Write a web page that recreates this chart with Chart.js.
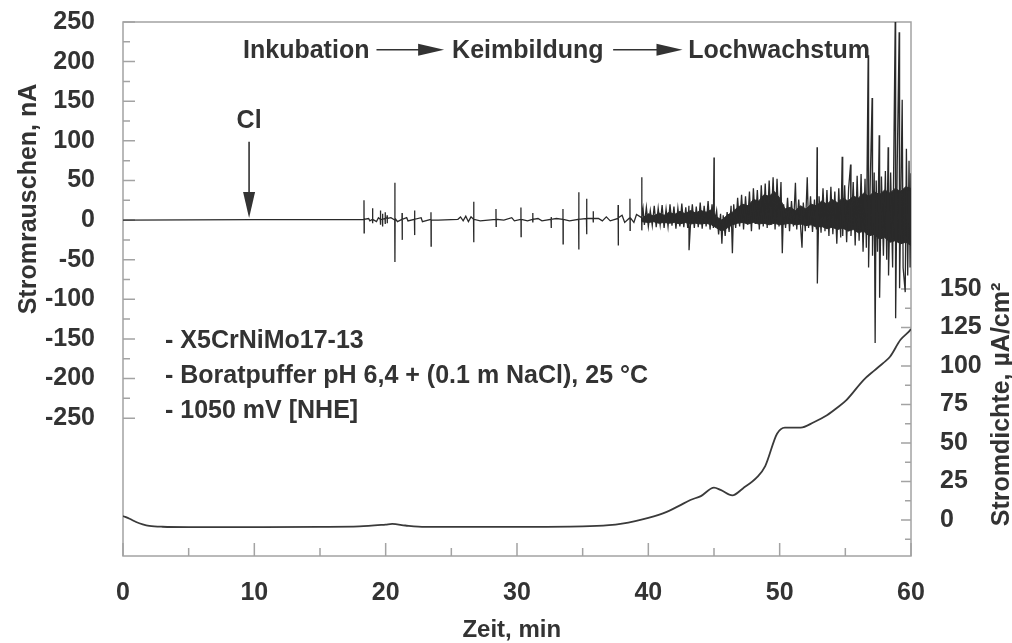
<!DOCTYPE html>
<html>
<head>
<meta charset="utf-8">
<script src="https://cdn.jsdelivr.net/npm/chart.js@4.4.1/dist/chart.umd.min.js"></script>
<style>
  html, body { margin: 0; padding: 0; background: #fff; }
</style>
</head>
<body>
<canvas id="chart" width="1012" height="643"></canvas>
<script>
// axis ticks
const xTicks = [0, 10, 20, 30, 40, 50, 60];
const xMinorTicks = [5, 15, 25, 35, 45, 55];
const noiseTicks = [250, 200, 150, 100, 50, 0, -50, -100, -150, -200, -250];
const noiseMinorTicks = [225, 175, 125, 75, 25, -25, -75, -125, -175, -225];
const densityTicks = [0, 25, 50, 75, 100, 125, 150];
const densityMinorTicks = [-12.5, 12.5, 37.5, 62.5, 87.5, 112.5, 137.5];

// Stromrauschen in nA, [Zeit min, Wert]
const noise = [
  [0, 0], [10, 0.5], [18.2, 0.5],
  [18.34, 1], [18.35, 25], [18.36, -16], [18.37, 1],
  [18.7, 2], [18.8, -1],
  [18.99, 1], [19.0, 15], [19.01, -4], [19.02, 1],
  [19.3, -2], [19.45, 3],
  [19.59, 1], [19.6, 12], [19.61, -6], [19.62, 1],
  [19.75, 1], [19.76, 8], [19.77, -8], [19.78, 1],
  [19.95, 2], [19.96, 10], [19.97, -5], [19.98, 2],
  [20.1, 3], [20.11, 6], [20.12, -4], [20.13, 2], [20.4, 3],
  [20.69, 0], [20.7, 47], [20.71, -53], [20.72, 2], [20.9, -2],
  [21.24, 1], [21.25, 9], [21.26, -25], [21.27, 1], [21.6, 3], [21.7, -1],
  [22.19, 1], [22.2, 12], [22.21, -19], [22.22, 1],
  [22.7, 3], [22.8, -2],
  [23.44, 1], [23.45, 10], [23.46, -33], [23.47, 0],
  [24.0, 0], [25.5, 1], [25.7, 4], [25.9, -1], [26.1, 5], [26.3, -2], [26.5, 4],
  [26.69, 1], [26.7, 23], [26.71, -28], [26.72, 1], [27.2, -1],
  [28.39, 1], [28.4, 14], [28.41, -8], [28.42, 1],
  [29.0, 0], [29.6, 3], [29.8, -1],
  [30.29, 1], [30.3, 16], [30.31, -21], [30.32, 1],
  [30.8, -1],
  [31.19, 1], [31.2, 9], [31.21, -3], [31.22, 1], [31.6, 2], [31.9, -1],
  [32.59, 1], [32.6, 4], [32.61, -10], [32.62, 1],
  [33.0, 2],
  [33.49, 1], [33.5, 14], [33.51, -30], [33.52, 1],
  [34.0, -1],
  [34.69, 1], [34.7, 35], [34.71, -37], [34.72, 1],
  [35.29, 2], [35.3, 27], [35.31, -18], [35.32, 2],
  [35.79, 2], [35.8, 11], [35.81, -3], [35.82, 2], [36.2, 2], [36.5, -1], [36.8, 4], [37.1, -1],
  [37.69, 2], [37.7, 19], [37.71, -32], [37.72, 3], [38.0, 6], [38.2, -3],
  [38.59, 3], [38.6, 27], [38.61, -13], [38.62, 3], [38.9, -3], [39.1, 7],
  [39.49, 3], [39.5, 54], [39.51, -13], [39.52, 3],
  [39.6, 14], [39.7, -6], [39.85, 16], [40.0, -8], [40.15, 12], [40.3, -7], [40.45, 18], [40.6, -9],
  [40.75, 15], [40.9, -6], [41.05, 19], [41.2, -10], [41.35, 14], [41.5, -8], [41.65, 20], [41.8, -7],
  [41.95, 17], [42.1, -11], [42.25, 15], [42.4, -8], [42.55, 21], [42.7, -9], [42.85, 16], [43.0, -10],
  [43.09, 18], [43.1, -38], [43.2, -8], [43.35, 20], [43.5, -10], [43.65, 17], [43.8, -9], [43.95, 22],
  [44.1, -11], [44.25, 18], [44.4, -8], [44.55, 24], [44.7, -12], [44.85, 20], [44.95, -10],
  [45.0, 79], [45.02, -5], [45.2, 12], [45.35, -18], [45.5, 8], [45.6, -30], [45.7, 6], [45.85, -20],
  [46.0, 10], [46.15, -15], [46.3, 18], [46.4, -42], [46.5, 20], [46.65, -10], [46.8, 28], [46.95, -8],
  [47.1, 32], [47.25, -12], [47.4, 30], [47.55, -6], [47.7, 36], [47.85, -14], [48.0, 40], [48.15, -5],
  [48.3, 38], [48.45, -12], [48.6, 44], [48.75, -8], [48.9, 46], [49.05, -10], [49.2, 50], [49.35, -6],
  [49.5, 54], [49.65, -12], [49.8, 52], [49.95, -8], [50.1, 48], [50.2, -42], [50.3, 20], [50.45, -10],
  [50.6, 28], [50.75, -14], [50.9, 24], [51.05, -8], [51.2, 47], [51.3, -12], [51.45, 26], [51.6, -10],
  [51.7, -35], [51.8, 22], [51.95, -14], [52.1, 54], [52.2, -10], [52.35, 30], [52.5, -15], [52.65, 26],
  [52.8, -12], [52.85, 92], [52.87, -80], [53.0, 30], [53.15, -16], [53.3, 40], [53.45, -14], [53.6, 38],
  [53.75, -20], [53.9, 42], [54.05, -18], [54.2, 36], [54.35, -30], [54.5, 40], [54.65, -22], [54.76, 80],
  [54.8, -20], [54.95, 44], [55.1, -28], [55.25, 40], [55.4, 70], [55.43, -20], [55.6, 48], [55.75, -32],
  [55.9, 56], [56.05, -26], [56.2, 58], [56.35, -40], [56.5, 52], [56.6, -35],
  [56.74, 208], [56.77, -60], [56.9, 50], [57.04, 154], [57.07, -45], [57.2, 60], [57.27, -155], [57.35, 50],
  [57.45, -40], [57.58, 107], [57.61, -98], [57.75, 55], [57.9, -45], [58.05, 62], [58.15, -50],
  [58.26, 92], [58.29, -70], [58.45, 60], [58.6, -60], [58.8, 253], [58.83, -124], [58.95, 70],
  [59.1, 237], [59.13, -86], [59.33, 152], [59.4, -60], [59.56, -91], [59.65, 90], [59.75, -70],
  [59.85, 75], [59.93, -60], [60, 59]
];

// dichter Kern des Rauschbands (obere / untere Kante), nA
const bandTop = [
  [39.5, 2], [40, 8], [40.4, 5], [40.8, 9], [41.2, 6], [41.6, 10], [42, 7], [42.4, 11], [42.8, 8],
  [43.2, 12], [43.6, 9], [44, 12], [44.4, 10], [44.8, 13], [45.2, 4], [45.6, 0], [46, 6], [46.4, 10],
  [46.8, 16], [47.2, 20], [47.6, 18], [48, 26], [48.4, 24], [48.8, 32], [49.2, 30], [49.6, 36],
  [50, 28], [50.4, 14], [50.8, 16], [51.2, 12], [51.6, 18], [52, 14], [52.4, 20], [52.8, 18],
  [53.2, 24], [53.6, 20], [54, 26], [54.4, 22], [54.8, 28], [55.2, 24], [55.6, 30], [56, 28],
  [56.4, 34], [56.8, 30], [57.2, 36], [57.6, 32], [58, 38], [58.4, 34], [58.8, 40], [59.2, 36],
  [59.6, 42], [60, 40]
];
const bandBottom = [
  [39.5, -2], [40, -3], [40.4, -2], [40.8, -4], [41.2, -3], [41.6, -4], [42, -3], [42.4, -5], [42.8, -3],
  [43.2, -5], [43.6, -4], [44, -5], [44.4, -4], [44.8, -6], [45.2, -10], [45.6, -14], [46, -10], [46.4, -6],
  [46.8, -4], [47.2, -3], [47.6, -5], [48, -3], [48.4, -5], [48.8, -4], [49.2, -6], [49.6, -4],
  [50, -6], [50.4, -5], [50.8, -4], [51.2, -6], [51.6, -5], [52, -7], [52.4, -6], [52.8, -9],
  [53.2, -8], [53.6, -11], [54, -9], [54.4, -12], [54.8, -10], [55.2, -14], [55.6, -12], [56, -16],
  [56.4, -14], [56.8, -20], [57.2, -18], [57.6, -24], [58, -22], [58.4, -28], [58.8, -26], [59.2, -30],
  [59.6, -28], [60, -32]
];

// Stromdichte in µA/cm², [Zeit min, Wert]
const density = [
  [0, 2.6], [0.5, 0.8], [1, -1.3], [1.5, -2.8], [2, -3.8], [3, -4.4], [5, -4.6], [10, -4.6],
  [15, -4.5], [18, -4.2], [20, -3.0], [20.5, -2.6], [21.5, -3.6], [23, -4.5], [30, -4.5],
  [35, -4.2], [37, -3.4], [38, -2.4], [39, -0.8], [40, 1.3], [41.4, 5.3], [42.3, 9], [43.2, 13],
  [44, 15.5], [45, 21], [45.5, 19.5], [46.4, 16], [47.2, 20.5], [48.3, 28], [48.9, 35],
  [49.8, 56], [50.4, 60], [51.6, 60], [52.6, 63.5], [53.6, 68], [54.4, 73], [55.1, 78],
  [56.4, 91], [57.2, 97], [57.9, 102], [58.4, 106], [59.2, 117], [59.8, 122], [60, 124]
];

const cueLabel = 'Cl';
const phases = ['Inkubation', 'Keimbildung', 'Lochwachstum'];
const notes = ['- X5CrNiMo17-13', '- Boratpuffer pH 6,4 + (0.1 m NaCl), 25 \u00B0C', '- 1050 mV [NHE]'];

const ink = '#333333';
const trace = '#2a2a2a';
const axisGray = '#a3a3a3';
const family = '"Liberation Sans", Arial, sans-serif';
const font = size => 'bold ' + size + 'px ' + family;

Chart.defaults.font.family = family;
Chart.defaults.font.weight = 'bold';
Chart.defaults.color = ink;

const toXY = ([t, v]) => ({ x: t, y: v });

function hArrow(ctx, x0, x1, yy) {
  ctx.beginPath();
  ctx.moveTo(x0, yy);
  ctx.lineTo(x1 - 20, yy);
  ctx.stroke();
  ctx.beginPath();
  ctx.moveTo(x1, yy);
  ctx.lineTo(x1 - 26, yy - 6);
  ctx.lineTo(x1 - 26, yy + 6);
  ctx.closePath();
  ctx.fill();
}

function vArrow(ctx, xx, y0, y1) {
  ctx.beginPath();
  ctx.moveTo(xx, y0);
  ctx.lineTo(xx, y1 - 20);
  ctx.stroke();
  ctx.beginPath();
  ctx.moveTo(xx, y1);
  ctx.lineTo(xx - 6, y1 - 26);
  ctx.lineTo(xx + 6, y1 - 26);
  ctx.closePath();
  ctx.fill();
}

// no extra room for half tick labels, the plot box is set by afterFit
function noPadding(s) {
  s.paddingTop = 0;
  s.paddingBottom = 0;
  s.paddingLeft = 0;
  s.paddingRight = 0;
}

const framePlugin = {
  id: 'frame',
  beforeDatasetsDraw(chart) {
    const { ctx, chartArea: a } = chart;
    const { x, y, y2 } = chart.scales;
    ctx.save();
    ctx.strokeStyle = axisGray;
    ctx.lineWidth = 1.5;
    ctx.strokeRect(a.left, a.top, a.right - a.left, a.bottom - a.top);
    ctx.beginPath();
    noiseTicks.forEach(v => { const p = y.getPixelForValue(v); ctx.moveTo(a.left, p); ctx.lineTo(a.left + 12, p); });
    noiseMinorTicks.forEach(v => { const p = y.getPixelForValue(v); ctx.moveTo(a.left, p); ctx.lineTo(a.left + 7, p); });
    densityTicks.forEach(v => { const p = y2.getPixelForValue(v); ctx.moveTo(a.right, p); ctx.lineTo(a.right - 10, p); });
    densityMinorTicks.forEach(v => { const p = y2.getPixelForValue(v); ctx.moveTo(a.right, p); ctx.lineTo(a.right - 6, p); });
    xTicks.forEach(v => { const p = x.getPixelForValue(v); ctx.moveTo(p, a.bottom); ctx.lineTo(p, a.bottom - 13); });
    xMinorTicks.forEach(v => { const p = x.getPixelForValue(v); ctx.moveTo(p, a.bottom); ctx.lineTo(p, a.bottom - 8); });
    ctx.stroke();
    ctx.restore();
  },
  afterDatasetsDraw(chart) {
    const { ctx } = chart;
    const { x, y, y2 } = chart.scales;
    ctx.save();
    ctx.fillStyle = ink;
    ctx.strokeStyle = ink;
    ctx.lineWidth = 1.6;
    ctx.textBaseline = 'alphabetic';

    // phase labels along the top
    ctx.font = font(25);
    ctx.textAlign = 'left';
    const hy = y.getPixelForValue(215);
    ctx.fillText(phases[0], x.getPixelForValue(9.14), hy + 8);
    ctx.fillText(phases[1], x.getPixelForValue(25.06), hy + 8);
    ctx.fillText(phases[2], x.getPixelForValue(43.03), hy + 8);
    hArrow(ctx, x.getPixelForValue(19.3), x.getPixelForValue(24.45), hy);
    hArrow(ctx, x.getPixelForValue(37.32), x.getPixelForValue(42.6), hy);

    // chloride addition
    ctx.textAlign = 'center';
    ctx.fillText(cueLabel, x.getPixelForValue(9.6), y.getPixelForValue(116));
    vArrow(ctx, x.getPixelForValue(9.6), y.getPixelForValue(99), y.getPixelForValue(2.5));

    // test conditions
    ctx.textAlign = 'left';
    notes.forEach((t, i) => ctx.fillText(t, x.getPixelForValue(3.2), 348 + i * 35));

    // axis titles
    ctx.textAlign = 'center';
    ctx.save();
    ctx.translate(36, 199);
    ctx.rotate(-Math.PI / 2);
    ctx.fillText('Stromrauschen, nA', 0, 0);
    ctx.restore();
    ctx.save();
    ctx.translate(1009, y2.getPixelForValue(75));
    ctx.rotate(-Math.PI / 2);
    ctx.fillText('Stromdichte, \u00B5A/cm\u00B2', 0, 0);
    ctx.restore();
    ctx.font = font(24);
    ctx.fillText('Zeit, min', x.getPixelForValue(29.6), 637);
    ctx.restore();
  }
};

new Chart(document.getElementById('chart'), {
  type: 'line',
  data: {
    datasets: [{
      label: 'Stromrauschen',
      data: noise.map(toXY),
      yAxisID: 'y',
      borderColor: trace,
      borderWidth: 1.3,
      pointRadius: 0,
      tension: 0,
      order: 0
    }, {
      label: 'Band oben',
      data: bandTop.map(toXY),
      yAxisID: 'y',
      borderColor: trace,
      borderWidth: 1,
      backgroundColor: trace,
      pointRadius: 0,
      tension: 0,
      fill: '+1',
      order: 1
    }, {
      label: 'Band unten',
      data: bandBottom.map(toXY),
      yAxisID: 'y',
      borderColor: trace,
      borderWidth: 1,
      pointRadius: 0,
      tension: 0,
      fill: false,
      order: 1
    }, {
      label: 'Stromdichte',
      data: density.map(toXY),
      yAxisID: 'y2',
      borderColor: '#3a3a3a',
      borderWidth: 1.8,
      pointRadius: 0,
      cubicInterpolationMode: 'monotone',
      order: 2
    }]
  },
  options: {
    responsive: false,
    animation: false,
    layout: { padding: { top: 22, left: 0, right: 0, bottom: 0 } },
    plugins: { legend: { display: false }, tooltip: { enabled: false } },
    scales: {
      x: {
        type: 'linear', min: 0, max: 60,
        afterFit: s => { s.height = 87; noPadding(s); },
        afterBuildTicks: s => { s.ticks = xTicks.map(v => ({ value: v })); },
        grid: { display: false }, border: { display: false },
        ticks: { padding: 14, font: { size: 25, weight: 'bold' }, color: ink, maxRotation: 0 }
      },
      y: {
        position: 'left', min: -424, max: 250,
        afterFit: s => { s.width = 123; noPadding(s); },
        afterBuildTicks: s => { s.ticks = noiseTicks.map(v => ({ value: v })); },
        grid: { display: false }, border: { display: false },
        ticks: { padding: 20, font: { size: 25, weight: 'bold' }, color: ink }
      },
      y2: {
        position: 'right', min: -23.4, max: 323.4,
        afterFit: s => { s.width = 101; noPadding(s); },
        afterBuildTicks: s => { s.ticks = densityTicks.map(v => ({ value: v })); },
        grid: { display: false }, border: { display: false },
        ticks: { padding: 21, font: { size: 25, weight: 'bold' }, color: ink }
      }
    }
  },
  plugins: [framePlugin]
});
</script>
</body>
</html>
